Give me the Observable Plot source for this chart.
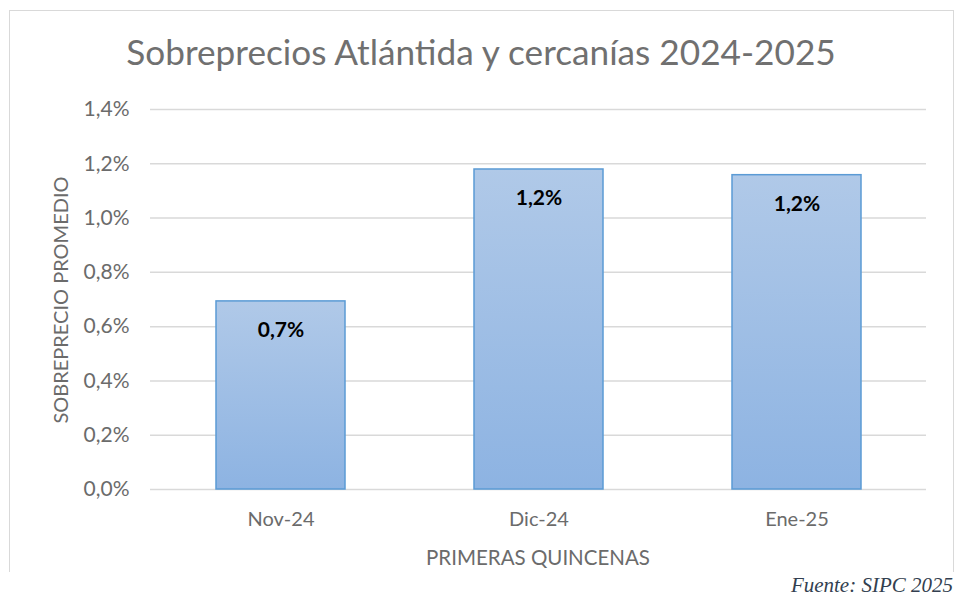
<!DOCTYPE html>
<html>
<head>
<meta charset="utf-8">
<script src="https://cdn.jsdelivr.net/npm/d3@7"></script>
<script src="https://cdn.jsdelivr.net/npm/@observablehq/plot@0.6"></script>
<style>
  html, body { margin: 0; padding: 0; background: #fff; }
  #wrap { position: relative; width: 956px; height: 600px; overflow: hidden; font-family: Lato, "Open Sans", sans-serif; }
  #frame { position: absolute; left: 9px; top: 10px; width: 945px; height: 562px; border: 1.5px solid #d9d9d9; border-bottom: none; box-sizing: border-box; }
  #chart { position: absolute; left: 0; top: 0; }
  .title { position: absolute; left: 0; width: 962px; top: 30px; text-align: center; font-size: 35.2px; color: #707070; }
  .ylab { position: absolute; left: 60px; top: 300px; transform: translate(-50%, -50%) rotate(-90deg); white-space: nowrap; font-size: 20px; color: #6b6b6b; }
  .xlab { position: absolute; left: 538px; top: 557px; transform: translate(-50%, -50%); white-space: nowrap; font-size: 20.5px; color: #6b6b6b; }
  .cap { position: absolute; right: 3px; top: 571px; padding: 2px 0 6px 8px; background: #fff; font-family: "Liberation Serif", "Times New Roman", serif; font-style: italic; font-size: 21px; color: #333f50; }
</style>
</head>
<body>
<div id="wrap">
  <div id="frame"></div>
  <div id="chart"></div>
  <div class="title">Sobreprecios Atlántida y cercanías 2024-2025</div>
  <div class="ylab">SOBREPRECIO PROMEDIO</div>
  <div class="xlab">PRIMERAS QUINCENAS</div>
  <div class="cap">Fuente: SIPC 2025</div>
</div>
<script>
const categories = ["Nov-24", "Dic-24", "Ene-25"];
const values = [0.693, 1.179, 1.158];
const valueLabels = ["0,7%", "1,2%", "1,2%"];
const yTicks = [0, 0.2, 0.4, 0.6, 0.8, 1.0, 1.2, 1.4];

const data = categories.map((c, i) => ({cat: c, v: values[i], lab: valueLabels[i]}));
const fmt = v => v.toFixed(1).replace(".", ",") + "%";

const plot = Plot.plot({
  width: 956,
  height: 600,
  marginTop: 109,
  marginBottom: 111,
  marginLeft: 150,
  marginRight: 30,
  style: {fontFamily: "Lato, 'Open Sans', sans-serif", fontSize: "17px", color: "#6b6b6b", background: "transparent"},
  x: {domain: categories, paddingInner: 0.5, paddingOuter: 0.25, label: null},
  y: {domain: [0, 1.4], label: null},
  marks: [
    Plot.ruleY(yTicks, {stroke: "#d9d9d9", strokeWidth: 1.5}),
    Plot.barY(data, {x: "cat", y: "v", fill: "url(#barGrad)", stroke: "#5b9bd5", strokeWidth: 1.5}),
    Plot.text(data, {x: "cat", y: "v", text: "lab", dy: 29, fontSize: 21, fontWeight: "bold", fill: "#000"}),
    Plot.axisY(yTicks, {tickSize: 0, tickPadding: 21, tickFormat: fmt, fontSize: 21, fill: "#6b6b6b", label: null}),
    Plot.axisX({tickSize: 0, tickPadding: 22, fontSize: 20, fill: "#6b6b6b", label: null})
  ]
});

const svg = d3.select(plot);
const defs = svg.insert("defs", ":first-child");
const g = defs.append("linearGradient").attr("id", "barGrad").attr("x1", 0).attr("y1", 0).attr("x2", 0).attr("y2", 1);
g.append("stop").attr("offset", "0%").attr("stop-color", "#b0c9e8");
g.append("stop").attr("offset", "100%").attr("stop-color", "#8db3e2");

document.getElementById("chart").appendChild(plot);
</script>
</body>
</html>
